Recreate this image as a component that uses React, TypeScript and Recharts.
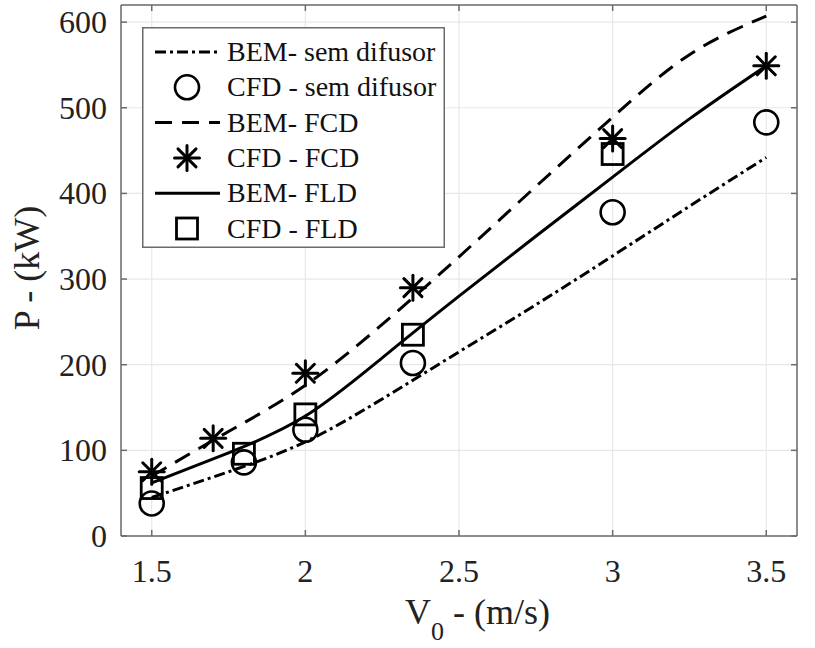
import React from 'react';
import { ComposedChart, Line, Scatter, XAxis, YAxis, CartesianGrid, Legend } from 'recharts';

// BEM curves (sampled every 0.25 m/s)
const vBem = [1.5, 1.75, 2, 2.25, 2.5, 2.75, 3, 3.25, 3.5];
const bemSemDifusor = [45, 75, 110, 160, 215, 270, 327, 385, 442];
const bemFcd = [70, 122, 176, 247, 326, 408, 489, 562, 607];
const bemFld = [62, 97, 140, 208, 280, 350, 419, 487, 549];

// CFD points
const vCfdSem = [1.5, 1.8, 2, 2.35, 3, 3.5];
const cfdSemDifusor = [38, 86, 124, 202, 378, 483];
const vCfdFcd = [1.5, 1.7, 2, 2.35, 3, 3.5];
const cfdFcd = [75, 114, 190, 290, 464, 549];
const vCfdFld = [1.5, 1.8, 2, 2.35, 3];
const cfdFld = [56, 96, 142, 235, 446];

const xTicks = [1.5, 2, 2.5, 3, 3.5];
const yTicks = [0, 100, 200, 300, 400, 500, 600];

const FONT = '"Liberation Serif", "Times New Roman", serif';
const AXIS = '#6b6b6b';
const PLOT_LEFT = 121;
const PLOT_RIGHT = 797;
const PLOT_TOP = 5;
const PLOT_BOTTOM = 536;
const TICK = 6;

const pairs = (xs: number[], ys: number[]) => xs.map((x, i) => ({ x, y: ys[i] }));

const DASHDOT = '11 4 3 4';
const DASHED = '17 10';

const Circle = ({ cx, cy }: any) => (
  <circle cx={cx} cy={cy} r={12} fill="none" stroke="#000" strokeWidth={2.6} />
);
const Square = ({ cx, cy }: any) => (
  <rect x={cx - 10.5} y={cy - 10.5} width={21} height={21} fill="none" stroke="#000" strokeWidth={2.8} />
);
const Star = ({ cx, cy }: any) => {
  const r = 12.5;
  const d = r * 0.72;
  return (
    <g stroke="#000" strokeWidth={3} strokeLinecap="round">
      <line x1={cx} y1={cy - r} x2={cx} y2={cy + r} />
      <line x1={cx - r} y1={cy} x2={cx + r} y2={cy} />
      <line x1={cx - d} y1={cy - d} x2={cx + d} y2={cy + d} />
      <line x1={cx - d} y1={cy + d} x2={cx + d} y2={cy - d} />
    </g>
  );
};

const legendItems = [
  { name: 'BEM- sem difusor', kind: 'line', dash: DASHDOT },
  { name: 'CFD - sem difusor', kind: 'circle' },
  { name: 'BEM- FCD', kind: 'line', dash: DASHED },
  { name: 'CFD - FCD', kind: 'star' },
  { name: 'BEM- FLD', kind: 'line', dash: undefined },
  { name: 'CFD - FLD', kind: 'square' },
];

const LegendBox = () => (
  <svg width={303} height={221} style={{ display: 'block' }}>
    <rect x={0.75} y={0.75} width={301.5} height={219.5} fill="#fff" stroke={AXIS} strokeWidth={1.5} />
    {legendItems.map((it, i) => {
      const cy = 25 + i * 35.3;
      return (
        <g key={it.name}>
          {it.kind === 'line' && (
            <line x1={13} x2={78} y1={cy} y2={cy} stroke="#000" strokeWidth={3} strokeDasharray={it.dash} />
          )}
          {it.kind === 'circle' && <Circle cx={45} cy={cy} />}
          {it.kind === 'star' && <Star cx={45} cy={cy} />}
          {it.kind === 'square' && <Square cx={45} cy={cy} />}
          <text x={85} y={cy + 9} fontFamily={FONT} fontSize={28} fill="#111">{it.name}</text>
        </g>
      );
    })}
  </svg>
);

const BottomTick = ({ x, payload }: any) => (
  <g>
    <line x1={x} x2={x} y1={PLOT_BOTTOM} y2={PLOT_BOTTOM - TICK} stroke={AXIS} strokeWidth={1.5} />
    <text x={x} y={582} textAnchor="middle" fontFamily={FONT} fontSize={32} fill="#222">{payload.value}</text>
  </g>
);
const TopTick = ({ x }: any) => (
  <line x1={x} x2={x} y1={PLOT_TOP} y2={PLOT_TOP + TICK} stroke={AXIS} strokeWidth={1.5} />
);
const LeftTick = ({ y, payload }: any) => (
  <g>
    <line x1={PLOT_LEFT} x2={PLOT_LEFT + TICK} y1={y} y2={y} stroke={AXIS} strokeWidth={1.5} />
    <text x={107} y={y + 11} textAnchor="end" fontFamily={FONT} fontSize={32} fill="#222">{payload.value}</text>
  </g>
);
const RightTick = ({ y }: any) => (
  <line x1={PLOT_RIGHT} x2={PLOT_RIGHT - TICK} y1={y} y2={y} stroke={AXIS} strokeWidth={1.5} />
);

const XTitle = () => (
  <text x={405} y={624} fontFamily={FONT} fontSize={36} fill="#222">
    V<tspan dy={16} fontSize={26}>0</tspan><tspan dy={-16}> - (m/s)</tspan>
  </text>
);
const YTitle = () => (
  <text x={0} y={0} transform="translate(39,268) rotate(-90)" textAnchor="middle" fontFamily={FONT} fontSize={36} fill="#222">
    P - (kW)
  </text>
);

export default function App() {
  return (
    <div style={{ position: 'absolute', left: 0, top: 0, width: 815, height: 648, background: '#fff' }}>
      <ComposedChart width={815} height={648} margin={{ top: 0, right: 0, bottom: 0, left: 0 }}>
        <CartesianGrid stroke="#e8e8e8" strokeWidth={1.2} />
        <XAxis
          xAxisId={0}
          type="number"
          dataKey="x"
          domain={[1.4, 3.6]}
          ticks={xTicks}
          allowDataOverflow
          height={112}
          axisLine={{ stroke: AXIS, strokeWidth: 1.5 }}
          tickLine={false}
          tick={<BottomTick />}
          label={<XTitle />}
        />
        <XAxis
          xAxisId="top"
          orientation="top"
          type="number"
          dataKey="x"
          domain={[1.4, 3.6]}
          ticks={xTicks}
          allowDataOverflow
          height={5}
          axisLine={{ stroke: AXIS, strokeWidth: 1.5 }}
          tickLine={false}
          tick={<TopTick />}
        />
        <YAxis
          yAxisId={0}
          type="number"
          dataKey="y"
          domain={[0, 620]}
          ticks={yTicks}
          allowDataOverflow
          width={121}
          axisLine={{ stroke: AXIS, strokeWidth: 1.5 }}
          tickLine={false}
          tick={<LeftTick />}
          label={<YTitle />}
        />
        <YAxis
          yAxisId="right"
          orientation="right"
          type="number"
          domain={[0, 620]}
          ticks={yTicks}
          allowDataOverflow
          width={18}
          axisLine={{ stroke: AXIS, strokeWidth: 1.5 }}
          tickLine={false}
          tick={<RightTick />}
        />
        <Line data={pairs(vBem, bemSemDifusor)} dataKey="y" type="natural" stroke="#000" strokeWidth={3}
          strokeDasharray={DASHDOT} dot={false} activeDot={false} isAnimationActive={false} />
        <Line data={pairs(vBem, bemFcd)} dataKey="y" type="natural" stroke="#000" strokeWidth={3}
          strokeDasharray={DASHED} dot={false} activeDot={false} isAnimationActive={false} />
        <Line data={pairs(vBem, bemFld)} dataKey="y" type="natural" stroke="#000" strokeWidth={3}
          dot={false} activeDot={false} isAnimationActive={false} />
        <Scatter data={pairs(vCfdSem, cfdSemDifusor)} dataKey="y" shape={Circle} isAnimationActive={false} />
        <Scatter data={pairs(vCfdFcd, cfdFcd)} dataKey="y" shape={Star} isAnimationActive={false} />
        <Scatter data={pairs(vCfdFld, cfdFld)} dataKey="y" shape={Square} isAnimationActive={false} />
        <Legend
          layout="vertical"
          align="center"
          verticalAlign="middle"
          content={<LegendBox />}
          wrapperStyle={{ position: 'absolute', left: 142, top: 27, width: 303, height: 221 }}
        />
      </ComposedChart>
    </div>
  );
}
